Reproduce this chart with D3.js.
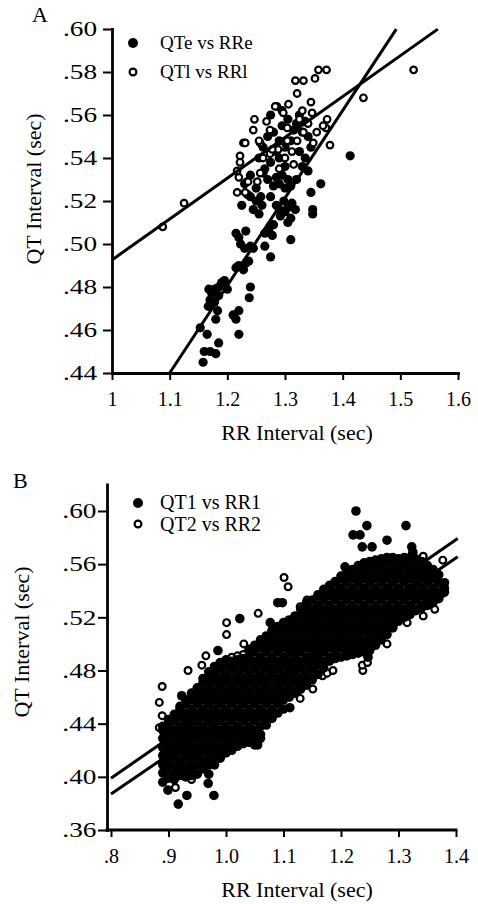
<!DOCTYPE html>
<html>
<head>
<meta charset="utf-8">
<script src="https://cdn.jsdelivr.net/npm/d3@7"></script>
<style>
body { margin: 0; background: #fff; }
svg { display: block; font-family: "Liberation Serif", "Times New Roman", serif; }
</style>
</head>
<body>
<svg id="chart" width="478" height="904"></svg>
<script>
// ---------- panel A : QTe vs RRe (filled), QTl vs RRl (open) ----------
var rrE = [1.158,1.153,1.165,1.160,1.170,1.180,1.185,1.180,1.183,1.210,1.215,1.220,1.220,1.238,1.240,
  1.167,1.170,1.173,1.168,1.178,1.185,1.190,1.195,1.200,1.185,1.178,1.215,1.220,1.228,1.232,1.237,
  1.215,1.220,1.232,1.240,1.230,1.223,1.245,1.265,1.275,1.265,1.272,1.280,1.278,
  1.225,1.240,1.250,1.245,1.255,1.260,1.235,1.250,1.258,1.275,1.285,1.290,1.300,1.305,1.298,1.310,
  1.305,1.292,1.318,1.312,1.310,1.345,1.348,1.348,1.362,1.270,1.285,1.290,1.295,1.305,1.310,1.300,
  1.280,1.265,1.275,1.290,1.300,1.255,1.262,1.270,1.280,1.290,1.300,1.310,1.315,1.320,1.330,1.340,
  1.345,1.335,1.325,1.295,1.285,1.413,1.340,1.320,1.330,1.230,1.240,1.262,
  1.275,1.295,1.305,1.325,1.335];
var qtE = [.445,.461,.458,.450,.450,.449,.454,.465,.469,.467,.465,.469,.458,.475,.480,
  .471,.474,.477,.479,.479,.480,.482,.483,.479,.476,.473,.489,.490,.488,.491,.492,
  .505,.503,.506,.499,.498,.500,.498,.499,.494,.505,.507,.509,.504,
  .518,.522,.520,.516,.514,.518,.523,.526,.522,.522,.518,.516,.515,.517,.520,.512,
  .510,.513,.516,.519,.502,.524,.516,.514,.528,.530,.531,.528,.532,.530,.527,.526,
  .527,.535,.538,.540,.536,.540,.545,.550,.552,.548,.545,.548,.553,.556,.552,.550,
  .545,.540,.543,.555,.543,.541,.534,.530,.536,.528,.532,.533,
  .560,.562,.558,.560,.557];
var rrL = [1.088,1.125,1.523,1.436,1.372,1.358,1.352,1.332,1.318,1.321,1.247,1.228,1.257,1.222,1.222,
  1.378,1.373,1.371,1.286,1.306,1.292,1.274,1.312,1.220,1.234,1.217,1.245,1.231,1.255,1.288,1.274,
  1.304,1.257,1.217,1.283,1.297,1.330,1.347,1.366,1.278,1.321,1.332,1.349,1.304,1.231,1.236,1.252,
  1.262,1.300,1.315,1.340,1.355,1.290,1.268,1.345,1.325];
var qtL = [.508,.519,.581,.568,.581,.581,.577,.576,.576,.570,.558,.547,.547,.541,.538,
  .546,.558,.554,.564,.565,.545,.553,.543,.531,.529,.524,.553,.547,.548,.544,.542,
  .548,.533,.534,.564,.561,.562,.561,.555,.544,.548,.552,.547,.554,.524,.529,.529,
  .540,.540,.537,.556,.552,.535,.557,.566,.558];
// regression lines: [intercept, slope, rr from, rr to]
var fitE = [-0.0077, 0.407, 1.1, 1.493];
var fitL = [0.3026, 0.19, 1.0, 1.565];

var xTicksA = [1, 1.1, 1.2, 1.3, 1.4, 1.5, 1.6];
var xLabelsA = ["1", "1.1", "1.2", "1.3", "1.4", "1.5", "1.6"];
var yTicksA = [.44, .46, .48, .50, .52, .54, .56, .58, .60];

// ---------- panel B : QT1 vs RR1 (filled), QT2 vs RR2 (open) ----------
// filled cloud read column by column (RR, then the QT values seen in that column)
var rrColsB = [0.89,0.90,0.91,0.92,0.93,0.94,0.95,0.96,0.97,0.98,0.99,1.00,1.01,1.02,1.03,1.04,1.05,
  1.06,1.07,1.08,1.09,1.10,1.11,1.12,1.13,1.14,1.15,1.16,1.17,1.18,1.19,1.20,1.21,1.22,1.23,1.24,
  1.25,1.26,1.27,1.28,1.29,1.30,1.31,1.32,1.33,1.34,1.35,1.36,1.37,1.38];
var qtColsB = [
  [.396,.403,.409,.416,.422,.429,.435,.438],
  [.399,.406,.412,.419,.425,.432,.438,.443],
  [.398,.403,.409,.416,.422,.429,.435,.442,.447],
  [.401,.406,.412,.419,.425,.432,.438,.445,.451,.453],
  [.400,.403,.409,.416,.422,.429,.435,.442,.448,.455,.458],
  [.401,.406,.412,.419,.425,.432,.438,.445,.451,.458,.463],
  [.402,.409,.416,.422,.429,.435,.442,.448,.455,.461,.467],
  [.406,.412,.419,.425,.432,.438,.445,.451,.458,.464,.471,.474],
  [.402,.409,.416,.422,.429,.435,.442,.448,.455,.461,.468,.474,.479],
  [.409,.412,.419,.425,.432,.438,.445,.451,.458,.464,.471,.477,.483],
  [.414,.416,.422,.429,.435,.442,.448,.455,.461,.468,.474,.481,.486],
  [.418,.419,.425,.432,.438,.445,.451,.458,.464,.471,.477,.484,.488],
  [.420,.422,.429,.435,.442,.448,.455,.461,.468,.474,.481,.487],
  [.423,.425,.432,.438,.445,.451,.458,.464,.471,.477,.484,.488],
  [.425,.429,.435,.442,.448,.455,.461,.468,.474,.481,.487,.489],
  [.426,.432,.438,.445,.451,.458,.464,.471,.477,.484,.490,.496],
  [.426,.429,.435,.442,.448,.455,.461,.468,.474,.481,.487,.494,.499],
  [.429,.432,.438,.445,.451,.458,.464,.471,.477,.484,.490,.497,.503],
  [.439,.442,.448,.455,.461,.468,.474,.481,.487,.494,.500,.506],
  [.444,.445,.451,.458,.464,.471,.477,.484,.490,.497,.503,.510],
  [.448,.455,.461,.468,.474,.481,.487,.494,.500,.507,.513],
  [.451,.458,.464,.471,.477,.484,.490,.497,.503,.510,.516],
  [.460,.461,.468,.474,.481,.487,.494,.500,.507,.513,.518],
  [.463,.464,.471,.477,.484,.490,.497,.503,.510,.516,.521],
  [.466,.468,.474,.481,.487,.494,.500,.507,.513,.520,.526],
  [.469,.471,.477,.484,.490,.497,.503,.510,.516,.523,.529,.531],
  [.473,.474,.481,.487,.494,.500,.507,.513,.520,.526,.533],
  [.477,.484,.490,.497,.503,.510,.516,.523,.529,.536,.537],
  [.482,.487,.494,.500,.507,.513,.520,.526,.533,.539,.541],
  [.487,.490,.497,.503,.510,.516,.523,.529,.536,.542,.544],
  [.489,.494,.500,.507,.513,.520,.526,.533,.539,.546,.547],
  [.490,.497,.503,.510,.516,.523,.529,.536,.542,.549,.551],
  [.491,.494,.500,.507,.513,.520,.526,.533,.539,.546,.552,.554],
  [.492,.497,.503,.510,.516,.523,.529,.536,.542,.549,.555,.556],
  [.493,.494,.500,.507,.513,.520,.526,.533,.539,.546,.552,.559],
  [.494,.497,.503,.510,.516,.523,.529,.536,.542,.549,.555,.561],
  [.495,.500,.507,.513,.520,.526,.533,.539,.546,.552,.559,.562],
  [.499,.503,.510,.516,.523,.529,.536,.542,.549,.555,.562,.563],
  [.503,.507,.513,.520,.526,.533,.539,.546,.552,.559,.564],
  [.507,.510,.516,.523,.529,.536,.542,.549,.555,.562,.565],
  [.512,.513,.520,.526,.533,.539,.546,.552,.559,.565],
  [.517,.523,.529,.536,.542,.549,.555,.562,.564],
  [.520,.526,.533,.539,.546,.552,.559,.565],
  [.522,.523,.529,.536,.542,.549,.555,.562,.565],
  [.525,.526,.533,.539,.546,.552,.559,.564],
  [.527,.529,.536,.542,.549,.555,.562],
  [.529,.533,.539,.546,.552,.559],
  [.531,.536,.542,.549,.555,.556],
  [.534,.539,.546,.552],
  [.539,.542,.546]
];
// filled points lying outside the main cloud
var rr1Out = [.917,.932,.979,.969,.899,.923,.986,1.024,1.077,1.090,1.098,1.111,1.000,1.247,1.226,1.245,
  1.313,1.221,1.233,1.280,1.237,1.254,1.323,1.325,1.207,1.050,1.055];
var qt1Out = [.3795,.386,.386,.395,.390,.461,.495,.519,.516,.531,.531,.452,.427,.490,.600,.589,
  .589,.582,.582,.578,.573,.573,.573,.569,.558,.424,.424];
var rr2 = [.884,.889,.884,.889,.934,.958,.965,1.001,1.001,1.031,1.056,1.101,1.108,1.238,1.168,1.176,
  1.186,1.237,1.246,1.151,1.129,1.129,1.141,1.343,1.377,1.377,1.363,1.343,1.315,1.280,
  .95,.97,1.00,1.05,1.10,1.15,1.20,1.25,1.30,1.010,1.020,1.030,.912,.940];
var qt2 = [.437,.446,.456,.468,.480,.484,.491,.507,.516,.500,.523,.550,.543,.480,.476,.478,
  .480,.484,.486,.466,.459,.528,.533,.566,.563,.538,.526,.521,.516,.500,
  .440,.450,.460,.470,.490,.500,.520,.530,.540,.490,.491,.492,.392,.398];
var fit1 = [0.1598, 0.299, 0.8, 1.403];
var fit2 = [0.1502, 0.296, 0.8, 1.403];

var xTicksB = [.8, .9, 1.0, 1.1, 1.2, 1.3, 1.4];
var xLabelsB = [".8", ".9", "1.0", "1.1", "1.2", "1.3", "1.4"];
var yTicksB = [.36, .40, .44, .48, .52, .56, .60];

var svg = d3.select("#chart");
var font = "'Liberation Serif', 'Times New Roman', serif";
var yFmt = function(d) { return d3.format(".2f")(d).replace(/^0/, ""); };

function styleAxis(g) {
  g.attr("font-family", font).attr("font-size", 20);
  g.select(".domain").attr("stroke-width", 2.8).attr("stroke-linecap", "square");
  g.selectAll(".tick line").attr("stroke-width", 2);
  g.selectAll(".tick text").attr("fill", "#000");
}

function fitLine(f) {
  return [{x: f[2], y: f[0] + f[1] * f[2]}, {x: f[3], y: f[0] + f[1] * f[3]}];
}

// ===== Panel A =====
var xA = d3.scaleLinear().domain([1, 1.6]).range([112, 458]);
var yA = d3.scaleLinear().domain([0.44, 0.60]).range([373, 29]);

var gxA = svg.append("g").attr("transform", "translate(0,373)")
  .call(d3.axisBottom(xA).tickValues(xTicksA).tickSize(7).tickSizeOuter(0).tickPadding(12)
    .tickFormat(function(d, i) { return xLabelsA[i]; }));
styleAxis(gxA);

var gyA = svg.append("g").attr("transform", "translate(112,0)")
  .call(d3.axisLeft(yA).tickValues(yTicksA).tickSize(9).tickSizeOuter(0).tickFormat(yFmt));
styleAxis(gyA);
gyA.selectAll(".tick text").attr("font-size", 21).attr("x", -11.5).attr("transform", "scale(1.3,1)");

var lineA = d3.line().x(function(d) { return xA(d.x); }).y(function(d) { return yA(d.y); });

svg.append("g").selectAll("circle")
  .data(d3.range(rrE.length))
  .enter().append("circle")
  .attr("cx", function(i) { return xA(rrE[i]); })
  .attr("cy", function(i) { return yA(qtE[i]); })
  .attr("r", 4.6)
  .style("fill", "#000");

svg.append("g").selectAll("circle")
  .data(d3.range(rrL.length))
  .enter().append("circle")
  .attr("cx", function(i) { return xA(rrL[i]); })
  .attr("cy", function(i) { return yA(qtL[i]); })
  .attr("r", 3.3)
  .style("fill", "#fff")
  .style("stroke", "#000")
  .style("stroke-width", 2.2);

[fitE, fitL].forEach(function(f) {
  svg.append("path").attr("d", lineA(fitLine(f)))
    .style("fill", "none").style("stroke", "#000").style("stroke-width", 3);
});

// legend A
svg.append("circle").attr("cx", 133).attr("cy", 43).attr("r", 5).style("fill", "#000");
svg.append("circle").attr("cx", 133).attr("cy", 72).attr("r", 3.4)
  .style("fill", "#fff").style("stroke", "#000").style("stroke-width", 2.2);
svg.append("text").attr("x", 160).attr("y", 49).attr("font-size", 19).text("QTe vs RRe");
svg.append("text").attr("x", 160).attr("y", 78).attr("font-size", 19).text("QTl vs RRl");

svg.append("text").attr("x", 32).attr("y", 22).attr("font-size", 22).text("A");
svg.append("text").attr("text-anchor", "middle").attr("font-size", 22)
  .attr("transform", "translate(41,189) rotate(-90)").text("QT Interval (sec)");
svg.append("text").attr("text-anchor", "middle").attr("font-size", 22)
  .attr("x", 297).attr("y", 440).text("RR Interval (sec)");

// ===== Panel B =====
var yAxisXB = 107;
var xB = d3.scaleLinear().domain([0.8, 1.4]).range([111, 456]);
var yB = d3.scaleLinear().domain([0.36, 0.62]).range([830, 484.4]);

var gxB = svg.append("g").attr("transform", "translate(0,830)")
  .call(d3.axisBottom(xB).tickValues(xTicksB).tickSize(7).tickSizeOuter(0).tickPadding(12)
    .tickFormat(function(d, i) { return xLabelsB[i]; }));
styleAxis(gxB);
gxB.select(".domain").attr("d", "M" + yAxisXB + ",0H" + xB(1.4));

var gyB = svg.append("g").attr("transform", "translate(" + yAxisXB + ",0)")
  .call(d3.axisLeft(yB).tickValues(yTicksB).tickSize(9).tickSizeOuter(0).tickFormat(yFmt));
styleAxis(gyB);
gyB.selectAll(".tick text").attr("font-size", 21).attr("x", -8.1).attr("transform", "scale(1.3,1)");

var lineB = d3.line().x(function(d) { return xB(d.x); }).y(function(d) { return yB(d.y); });

// open circles first, the filled cloud lies over them
svg.append("g").selectAll("circle")
  .data(d3.range(rr2.length))
  .enter().append("circle")
  .attr("cx", function(i) { return xB(rr2[i]); })
  .attr("cy", function(i) { return yB(qt2[i]); })
  .attr("r", 3.4)
  .style("fill", "#fff")
  .style("stroke", "#000")
  .style("stroke-width", 2.2);

var cloud = [];
rrColsB.forEach(function(rr, c) {
  qtColsB[c].forEach(function(qt) { cloud.push({rr: rr, qt: qt}); });
});
rr1Out.forEach(function(rr, i) { cloud.push({rr: rr, qt: qt1Out[i]}); });

svg.append("g").selectAll("circle")
  .data(cloud)
  .enter().append("circle")
  .attr("cx", function(d) { return xB(d.rr); })
  .attr("cy", function(d) { return yB(d.qt); })
  .attr("r", 4.8)
  .style("fill", "#000");

[fit1, fit2].forEach(function(f) {
  svg.append("path").attr("d", lineB(fitLine(f)))
    .style("fill", "none").style("stroke", "#000").style("stroke-width", 3);
});

// legend B
svg.append("circle").attr("cx", 138).attr("cy", 503).attr("r", 5).style("fill", "#000");
svg.append("circle").attr("cx", 138).attr("cy", 524).attr("r", 3.4)
  .style("fill", "#fff").style("stroke", "#000").style("stroke-width", 2.2);
svg.append("text").attr("x", 160).attr("y", 509).attr("font-size", 20).text("QT1 vs RR1");
svg.append("text").attr("x", 160).attr("y", 531).attr("font-size", 20).text("QT2 vs RR2");

svg.append("text").attr("x", 13).attr("y", 488).attr("font-size", 22).text("B");
svg.append("text").attr("text-anchor", "middle").attr("font-size", 22)
  .attr("transform", "translate(29,642) rotate(-90)").text("QT Interval (sec)");
svg.append("text").attr("text-anchor", "middle").attr("font-size", 22)
  .attr("x", 297).attr("y", 897).text("RR Interval (sec)");
</script>
</body>
</html>
